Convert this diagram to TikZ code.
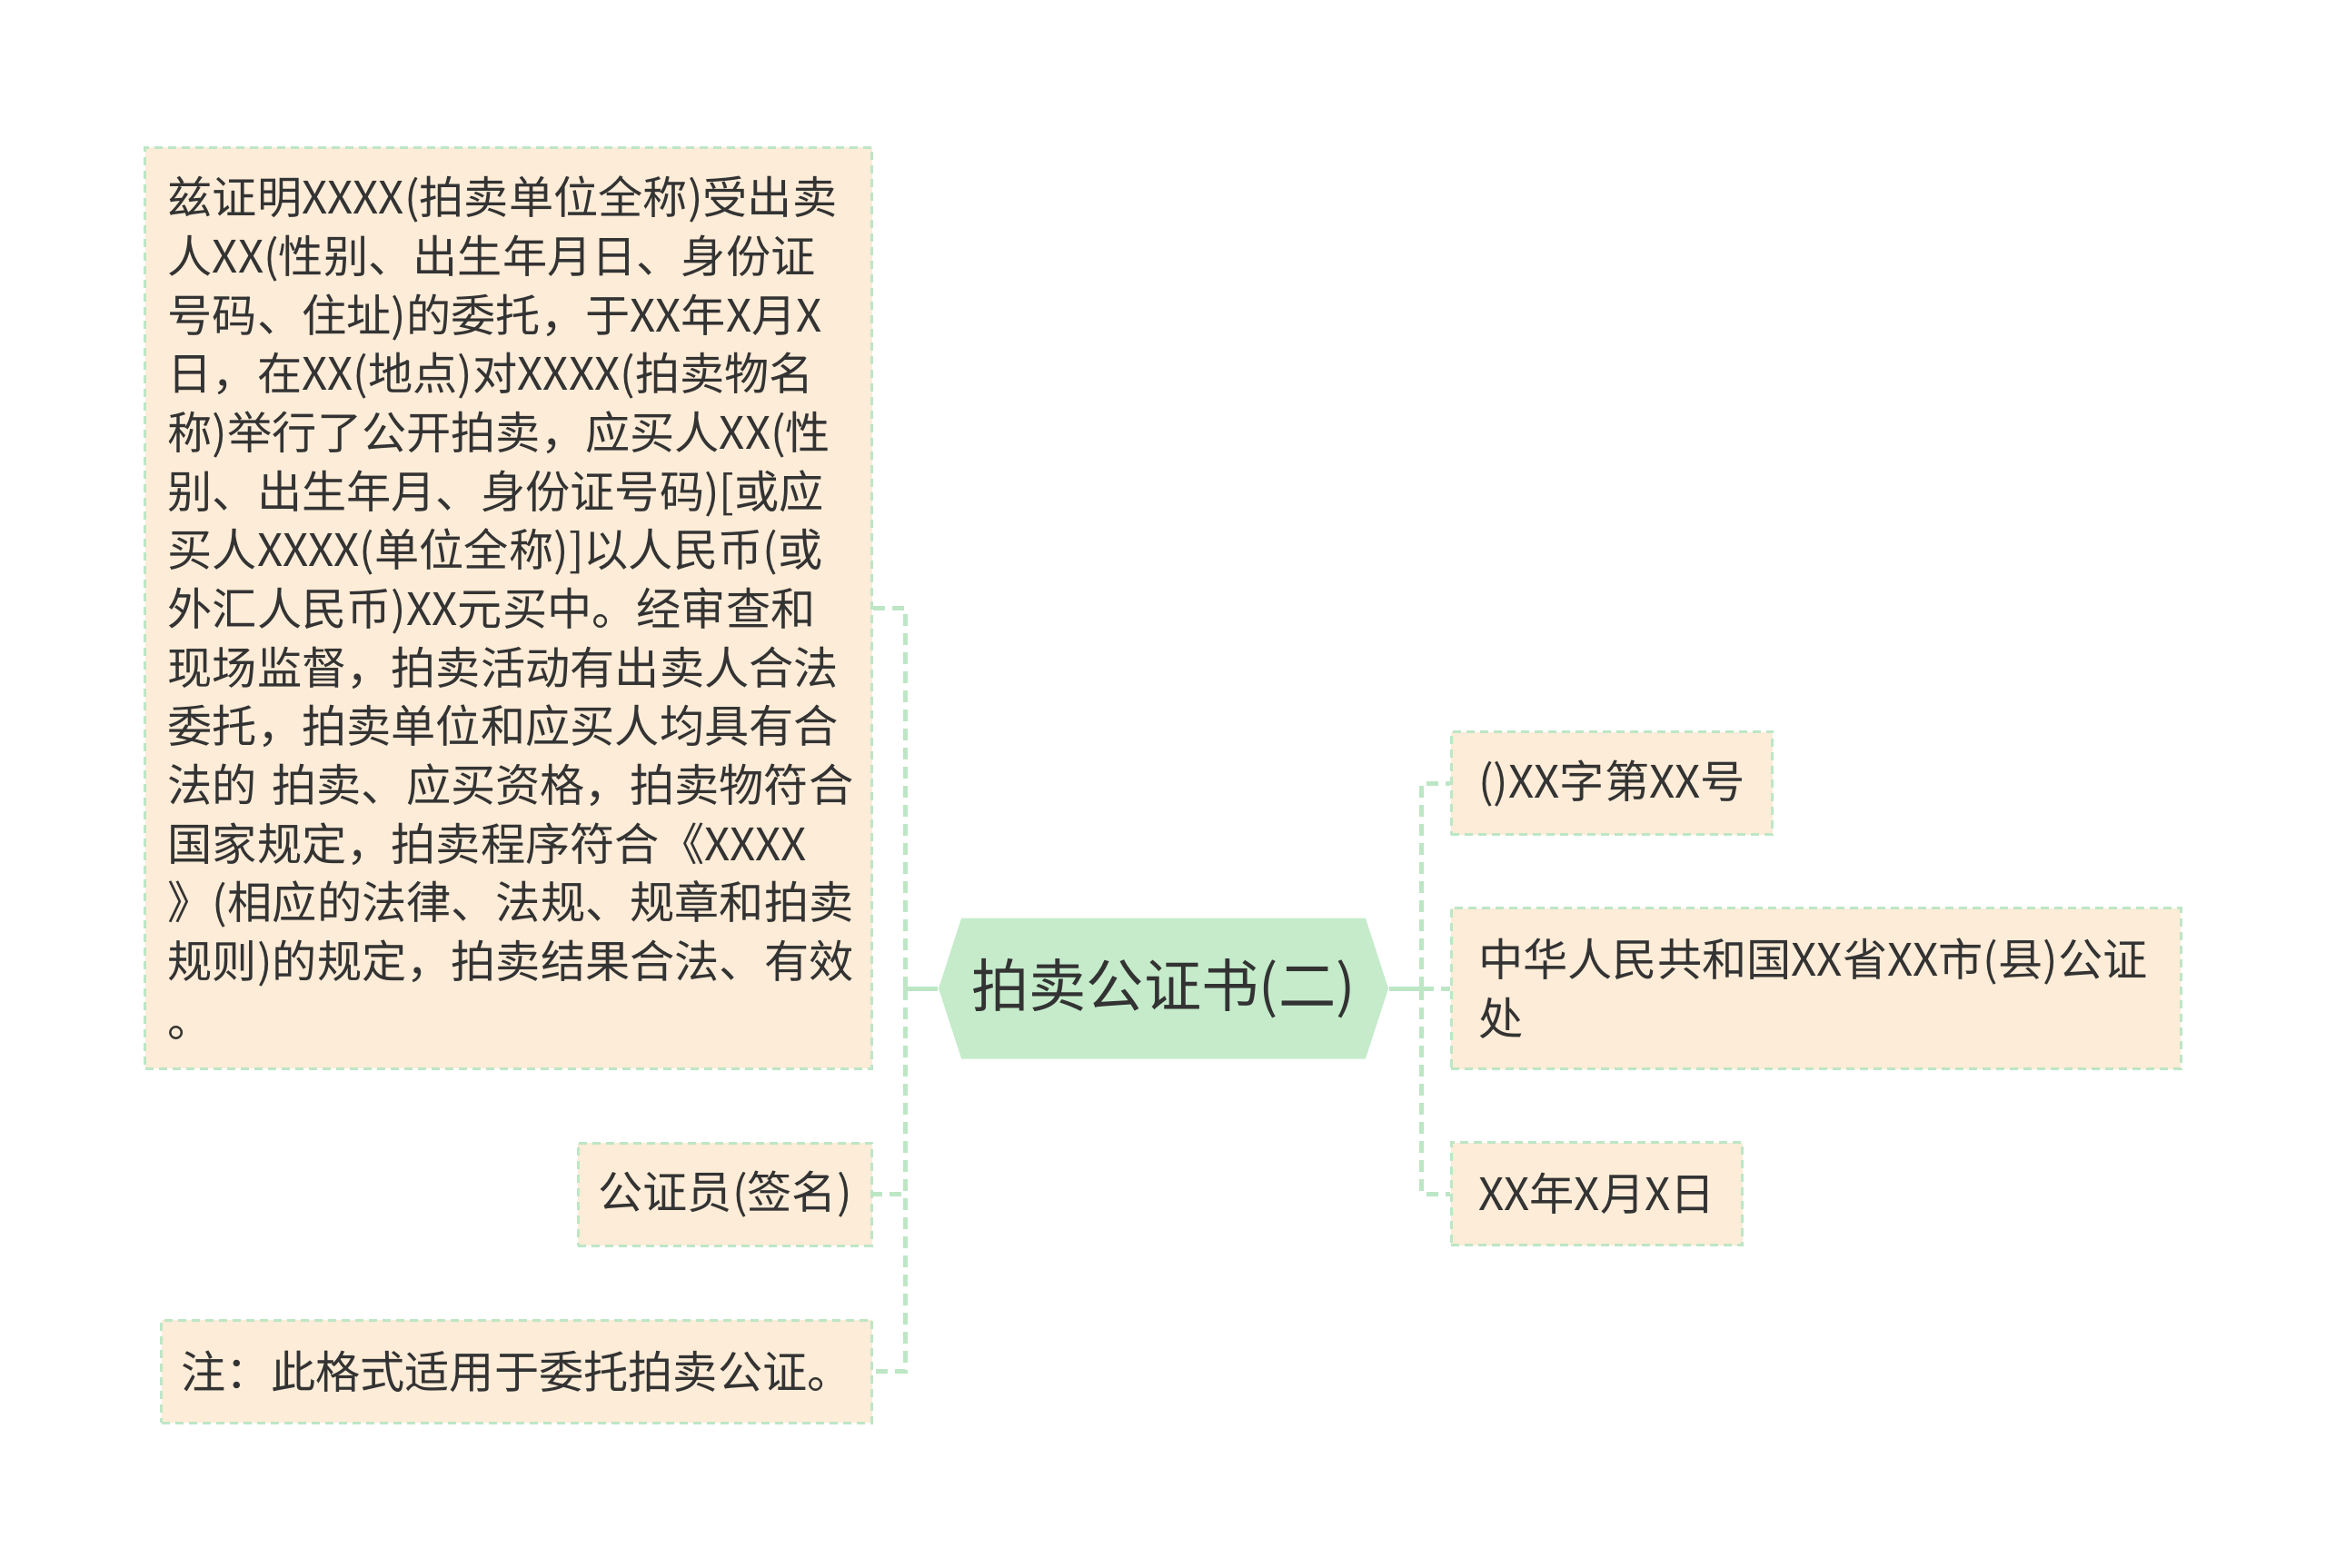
\documentclass[tikz,border=0pt]{standalone}
\usepackage{fontspec}
\setmainfont{Noto Sans CJK SC}
\usepackage{tikz}
\usetikzlibrary{positioning,shapes.symbols}

\definecolor{leaffill}{HTML}{FDECD7}
\definecolor{edgegreen}{HTML}{BDE6C5}
\definecolor{rootfill}{HTML}{C5EBCB}
\definecolor{inkgray}{HTML}{333333}

\tikzset{
    topic/.style={signal, signal to=west and east, signal pointer angle=144,
        fill=rootfill, text=inkgray, minimum width=4.95cm, minimum height=1.55cm,
        inner sep=0pt, font=\fontsize{18pt}{22pt}\selectfont},
    leaf/.style={draw=edgegreen, fill=leaffill, line width=0.03cm,
        dash pattern=on 0.09cm off 0.06cm, text=inkgray, align=left,
        inner xsep=0.22cm, inner ysep=0pt, minimum height=1.13cm,
        font=\fontsize{14pt}{18.4pt}\selectfont},
    trunk/.style={draw=edgegreen, line width=0.05cm},
    branch/.style={trunk, dash pattern=on 0.13cm off 0.08cm},
}

\begin{document}
\begin{tikzpicture}
    \useasboundingbox (0,0) rectangle (25.6,-17.26);

    % Define nodes
    \node[topic]		(root)	at (12.805,-10.88)	{拍卖公证书(二)};
    \node[leaf, inner xsep=0.3cm, text width=7.43cm, minimum height=1.77cm, right = 0.67 of root]		(r2)		{中华人民共和国XX省XX市(县)公证\\处};
    \node[leaf, inner xsep=0.3cm, above = 0.78 of r2.north west, anchor=south west]		(r1)		{()XX字第XX号};
    \node[leaf, inner xsep=0.3cm, below = 0.78 of r2.south west, anchor=north west]		(r3)		{XX年X月X日};
    \node[leaf, inner xsep=0.25cm, text width=7.5cm, minimum height=10.14cm, left = 0.71 of root, yshift=4.19cm]		(l1)		{兹证明XXXX(拍卖单位全称)受出卖\\人XX(性别、出生年月日、身份证\\号码、住址)的委托，于XX年X月X\\日，在XX(地点)对XXXX(拍卖物名\\称)举行了公开拍卖，应买人XX(性\\别、出生年月、身份证号码)[或应\\买人XXXX(单位全称)]以人民币(或\\外汇人民币)XX元买中。经审查和\\现场监督，拍卖活动有出卖人合法\\委托，拍卖单位和应买人均具有合\\法的~拍卖、应买资格，拍卖物符合\\国家规定，拍卖程序符合《XXXX\\》(相应的法律、法规、规章和拍卖\\规则)的规定，拍卖结果合法、有效\\。};
    \node[leaf, below = 0.79 of l1.south east, anchor=north east]		(l2)		{公证员(签名)};
    \node[leaf, below = 0.79 of l2.south east, anchor=north east]		(l3)		{注：此格式适用于委托拍卖公证。};

    \coordinate[left = 0.36 of root.west]		(jl);
    \coordinate[right = 0.36 of root.east]		(jr);

    % Connect nodes
    \draw[trunk] (root.west) -- (jl);
    \draw[trunk] (root.east) -- (jr);
    \draw[branch] (jl) |- (l1.east);
    \draw[branch] (jl) |- (l2.east);
    \draw[branch] (jl) |- (l3.east);
    \draw[branch] (jr) |- (r1.west);
    \draw[branch] (jr) |- (r2.west);
    \draw[branch] (jr) |- (r3.west);
\end{tikzpicture}
\end{document}
